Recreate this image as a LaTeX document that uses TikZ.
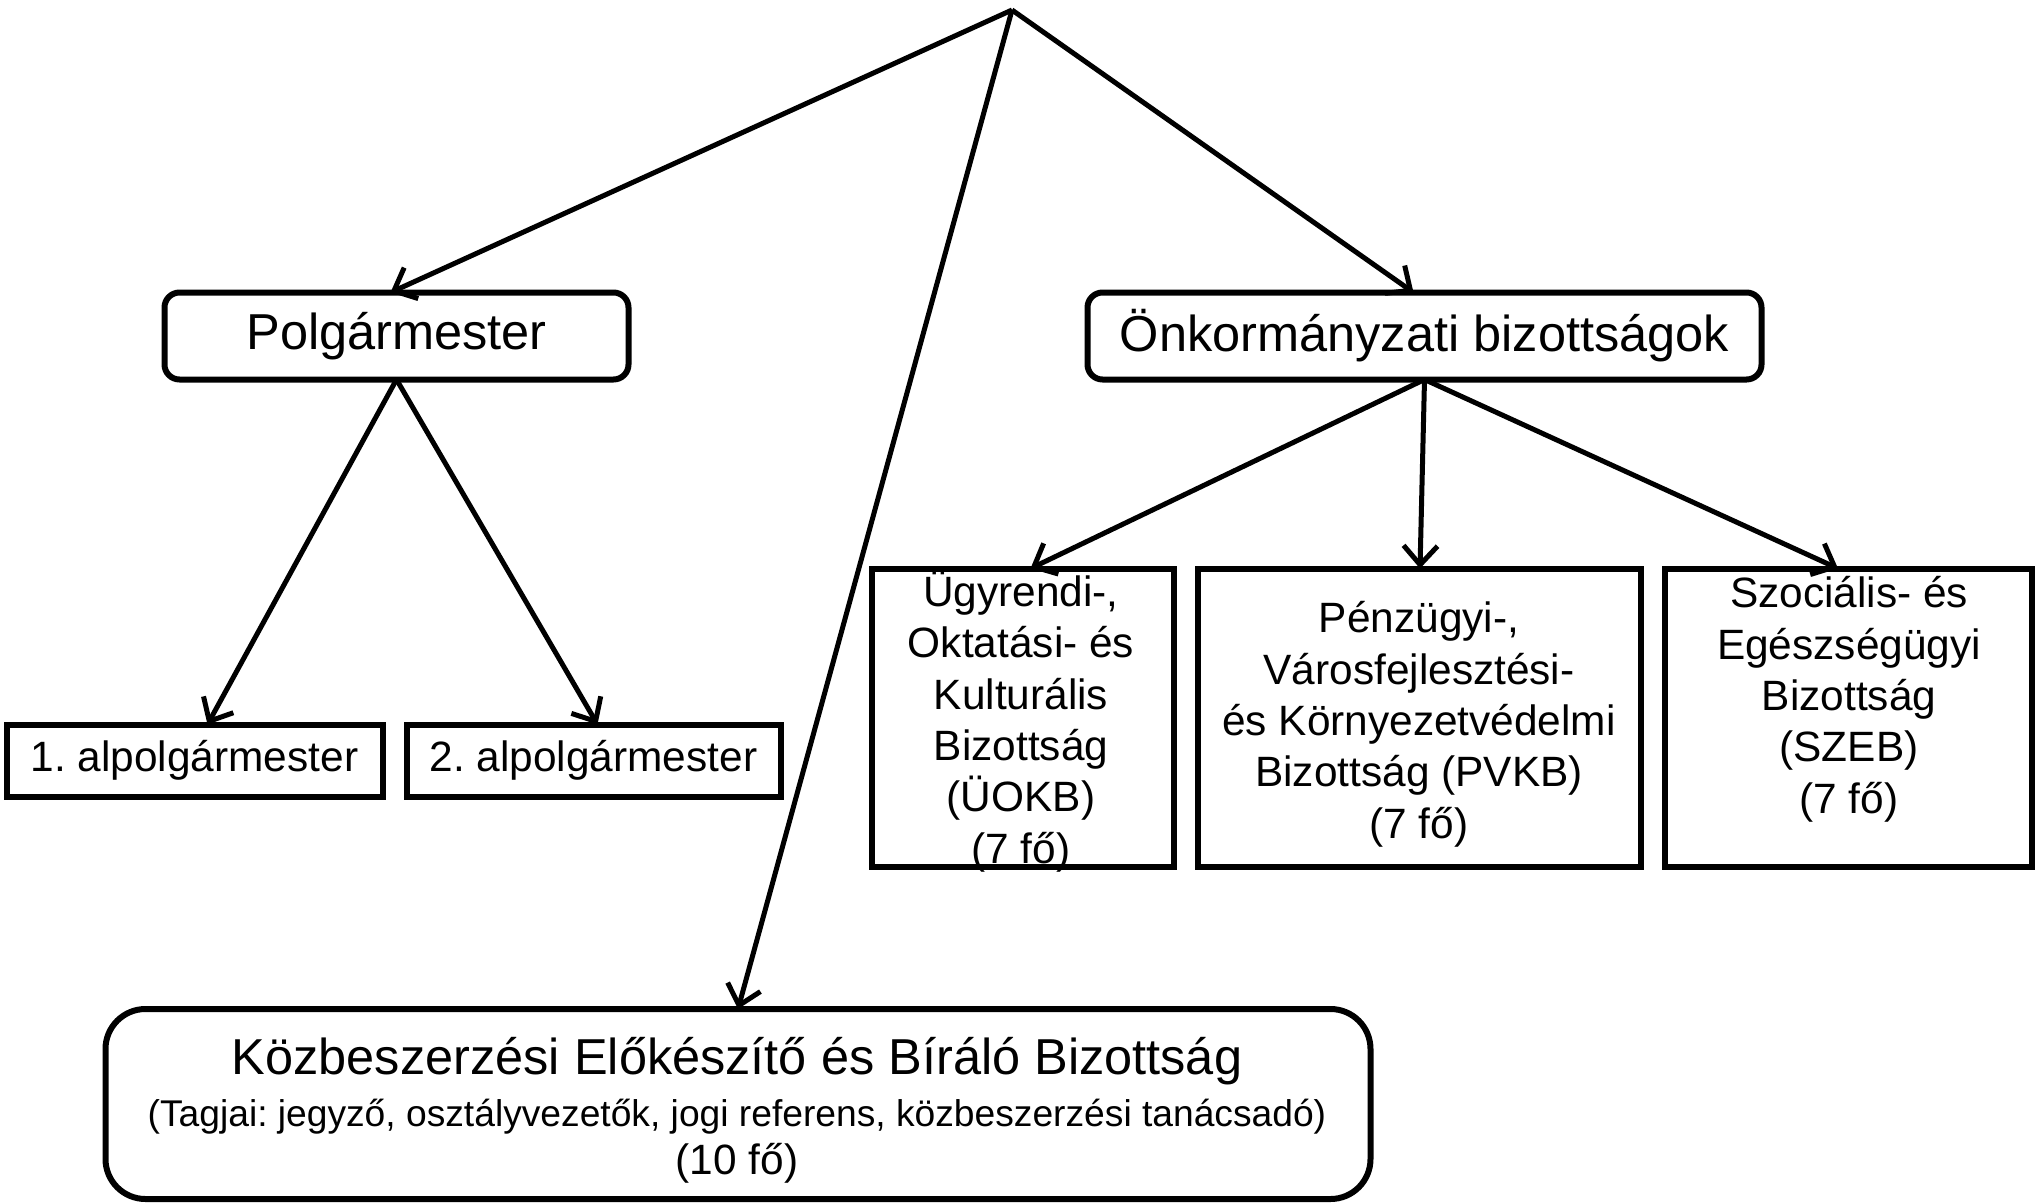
\documentclass[tikz,border=0pt]{standalone}
\usepackage{fontspec}
\setmainfont{Liberation Sans}
\usetikzlibrary{arrows.meta}
\frenchspacing
\newcommand\szA{\fontsize{50.5}{60}\selectfont}
\newcommand\szB{\fontsize{42.4}{51.3}\selectfont}
\newcommand\szC{\fontsize{37.2}{45}\selectfont}
\begin{document}
\begin{tikzpicture}[x=1pt,y=-1pt,
  rbox/.style={draw, line width=6pt, rounded corners=15pt, inner sep=0pt, outer sep=0pt},
  sqbox/.style={draw, line width=6pt, inner sep=0pt, outer sep=0pt},
  conn/.style={line width=5pt, -{Straight Barb[length=19pt,width=34pt]}},
  txt/.style={inner sep=0pt, align=center}]
\useasboundingbox (0,0) rectangle (2037,1203);
\fill[white] (0,0) rectangle (2037,1203);
\coordinate (apex) at (1012,10);
% top boxes
\node[rbox, minimum width=464pt, minimum height=87pt, font=\szA] (polg) at (396.5,336) {Polgármester};
\node[rbox, minimum width=674pt, minimum height=87pt, font=\szA] (onk) at (1424.5,336) {Önkormányzati bizottságok};
% deputy mayors
\node[sqbox, minimum width=376pt, minimum height=72pt, font=\szB] (alp1) at (194.5,760.5) {1. alpolgármester};
\node[sqbox, minimum width=374pt, minimum height=72pt, font=\szB] (alp2) at (593.5,760.5) {2. alpolgármester};
% committees
\node[sqbox, minimum width=302pt, minimum height=298pt] (ugy) at (1022.5,717.5) {};
\node[sqbox, minimum width=443pt, minimum height=298pt] (penz) at (1419,717.5) {};
\node[sqbox, minimum width=367pt, minimum height=298pt] (szoc) at (1848,717.5) {};
\node[txt, anchor=base, font=\szB] (ugyt) at (1021,863) {Ügyrendi-,\\Oktatási- és\\Kulturális\\Bizottság\\(ÜOKB)\\(7 fő)};
\node[txt, anchor=base, font=\szB] (penzt) at (1419,838) {Pénzügyi-,\\Városfejlesztési-\\és Környezetvédelmi\\Bizottság (PVKB)\\(7 fő)};
\node[txt, anchor=base, font=\szB] (szoct) at (1849,813) {Szociális- és\\Egészségügyi\\Bizottság\\(SZEB)\\(7 fő)};
% procurement committee
\node[rbox, rounded corners=40pt, minimum width=1265pt, minimum height=190pt] (kozb) at (738,1104) {};
\node[txt, anchor=base, font=\szA] (kozbt1) at (737,1074) {Közbeszerzési Előkészítő és Bíráló Bizottság};
\node[txt, anchor=base, font=\szC] (kozbt2) at (737,1126) {(Tagjai: jegyző, osztályvezetők, jogi referens, közbeszerzési tanácsadó)};
\node[txt, anchor=base, font=\szB] (kozbt3) at (737,1174) {(10 fő)};
% connectors
\draw[conn] (apex) -- ([xshift=-6pt]polg.north);
\draw[conn] (apex) -- ([xshift=-11pt]onk.north);
\draw[conn] (apex) -- (kozb.north);
\draw[conn] (polg.south) -- ([xshift=13pt]alp1.north);
\draw[conn] (polg.south) -- ([xshift=4pt]alp2.north);
\draw[conn] (onk.south) -- ([xshift=8pt]ugy.north);
\draw[conn] (onk.south) -- ([xshift=1pt]penz.north);
\draw[conn] (onk.south) -- ([xshift=-10pt]szoc.north);
\end{tikzpicture}
\end{document}
